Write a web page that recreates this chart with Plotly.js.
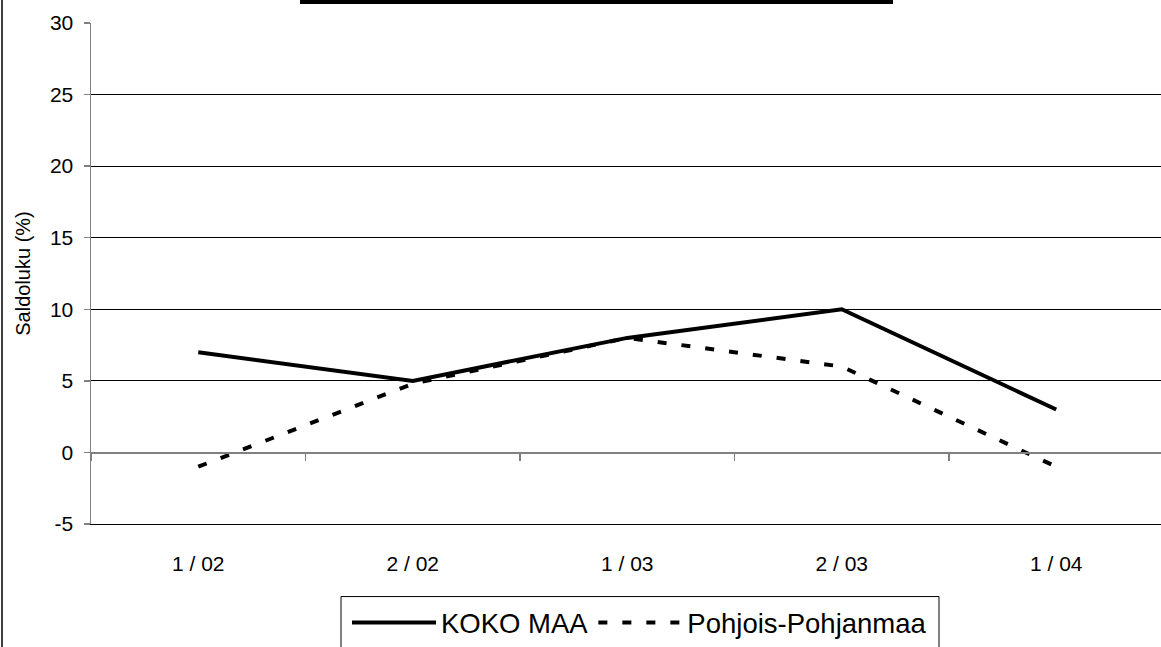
<!DOCTYPE html>
<html>
<head>
<meta charset="utf-8">
<script src="https://cdn.plot.ly/plotly-3.0.1.min.js"></script>
<style>html,body{margin:0;padding:0;background:#fff;}#chart{width:1161px;height:647px;}</style>
</head>
<body>
<div id="chart"></div>
<script>
const categories = ['1 / 02', '2 / 02', '1 / 03', '2 / 03', '1 / 04'];
const kokoMaa = [7, 5, 8, 10, 3];
const pohjoisPohjanmaa = [-1, 4.8, 8, 6, -1];
const seriesNames = ['KOKO MAA', 'Pohjois-Pohjanmaa'];
const yTickVals = [-5, 0, 5, 10, 15, 20, 25, 30];

const FONT = 'Liberation Sans, Arial, sans-serif';
const yMin = -5, yMax = 30;
const W = 1161, H = 647;
const mL = 91, mT = 23, mB = 120, mR = 0;
const plotW = W - mL - mR, plotH = H - mT - mB;
const catPx = 214.5;
const xMax = -0.5 + plotW / catPx;
const px2x = p => (p - mL) / plotW;
const px2y = p => 1 - (p - mT) / plotH;

const traces = [
  {x: categories, y: kokoMaa, name: seriesNames[0], type: 'scatter', mode: 'lines',
   line: {color: '#000', width: 4}, xaxis: 'x', yaxis: 'y'},
  {x: categories, y: pohjoisPohjanmaa, name: seriesNames[1], type: 'scatter', mode: 'lines',
   line: {color: '#000', width: 4, dash: '9px,15px'}, xaxis: 'x2', yaxis: 'y'}
];

const layout = {
  width: W, height: H,
  margin: {l: mL, r: mR, t: mT, b: mB, pad: 0},
  paper_bgcolor: '#fff', plot_bgcolor: '#fff',
  font: {family: FONT, size: 21, color: '#000'},
  showlegend: true,
  legend: {orientation: 'h', x: px2x(347), xanchor: 'left', y: px2y(602), yanchor: 'top',
           bgcolor: 'rgba(0,0,0,0)', borderwidth: 0, font: {family: FONT, size: 27.5, color: '#000'},
           itemwidth: 84, traceorder: 'normal'},
  xaxis: {type: 'category', range: [-0.5, xMax], showgrid: false, zeroline: false,
          showline: true, linecolor: '#000', linewidth: 1,
          ticks: '', showticklabels: true, ticklabelstandoff: 21,
          tickfont: {family: FONT, size: 21, color: '#000'}, fixedrange: true},
  xaxis2: {type: 'category', matches: 'x', overlaying: 'x', anchor: 'free',
           position: (0 - yMin) / (yMax - yMin), side: 'bottom',
           showgrid: false, zeroline: false, showline: true, linecolor: '#808080', linewidth: 1.5,
           ticks: 'outside', tickson: 'boundaries', ticklen: 7, tickcolor: '#808080', tickwidth: 1.5,
           showticklabels: false},
  yaxis: {range: [yMin, yMax], tickvals: yTickVals, ticktext: yTickVals.map(String),
          showgrid: true, gridcolor: '#000', gridwidth: 1, zeroline: false,
          showline: true, linecolor: '#808080', linewidth: 1.5,
          ticks: 'outside', ticklen: 6, tickcolor: '#808080', tickwidth: 1.5, ticklabelstandoff: 6,
          tickfont: {family: FONT, size: 21, color: '#000'},
          title: {text: 'Saldoluku (%)', font: {family: FONT, size: 20, color: '#000'}, standoff: 14}},
  shapes: [
    {type: 'rect', xref: 'paper', yref: 'paper', x0: px2x(300), x1: px2x(893), y0: px2y(4), y1: px2y(-1),
     fillcolor: '#000', line: {width: 0}},
    {type: 'line', xref: 'paper', yref: 'paper', x0: px2x(2), x1: px2x(2), y0: px2y(H + 5), y1: px2y(-5),
     line: {color: '#000', width: 1.5}},
    {type: 'rect', xref: 'paper', yref: 'paper', x0: px2x(341), x1: px2x(939), y0: px2y(H + 20), y1: px2y(600),
     fillcolor: 'rgba(0,0,0,0)', line: {color: '#000', width: 1}}
  ]
};

Plotly.newPlot('chart', traces, layout, {displayModeBar: false, staticPlot: true});
</script>
</body>
</html>
